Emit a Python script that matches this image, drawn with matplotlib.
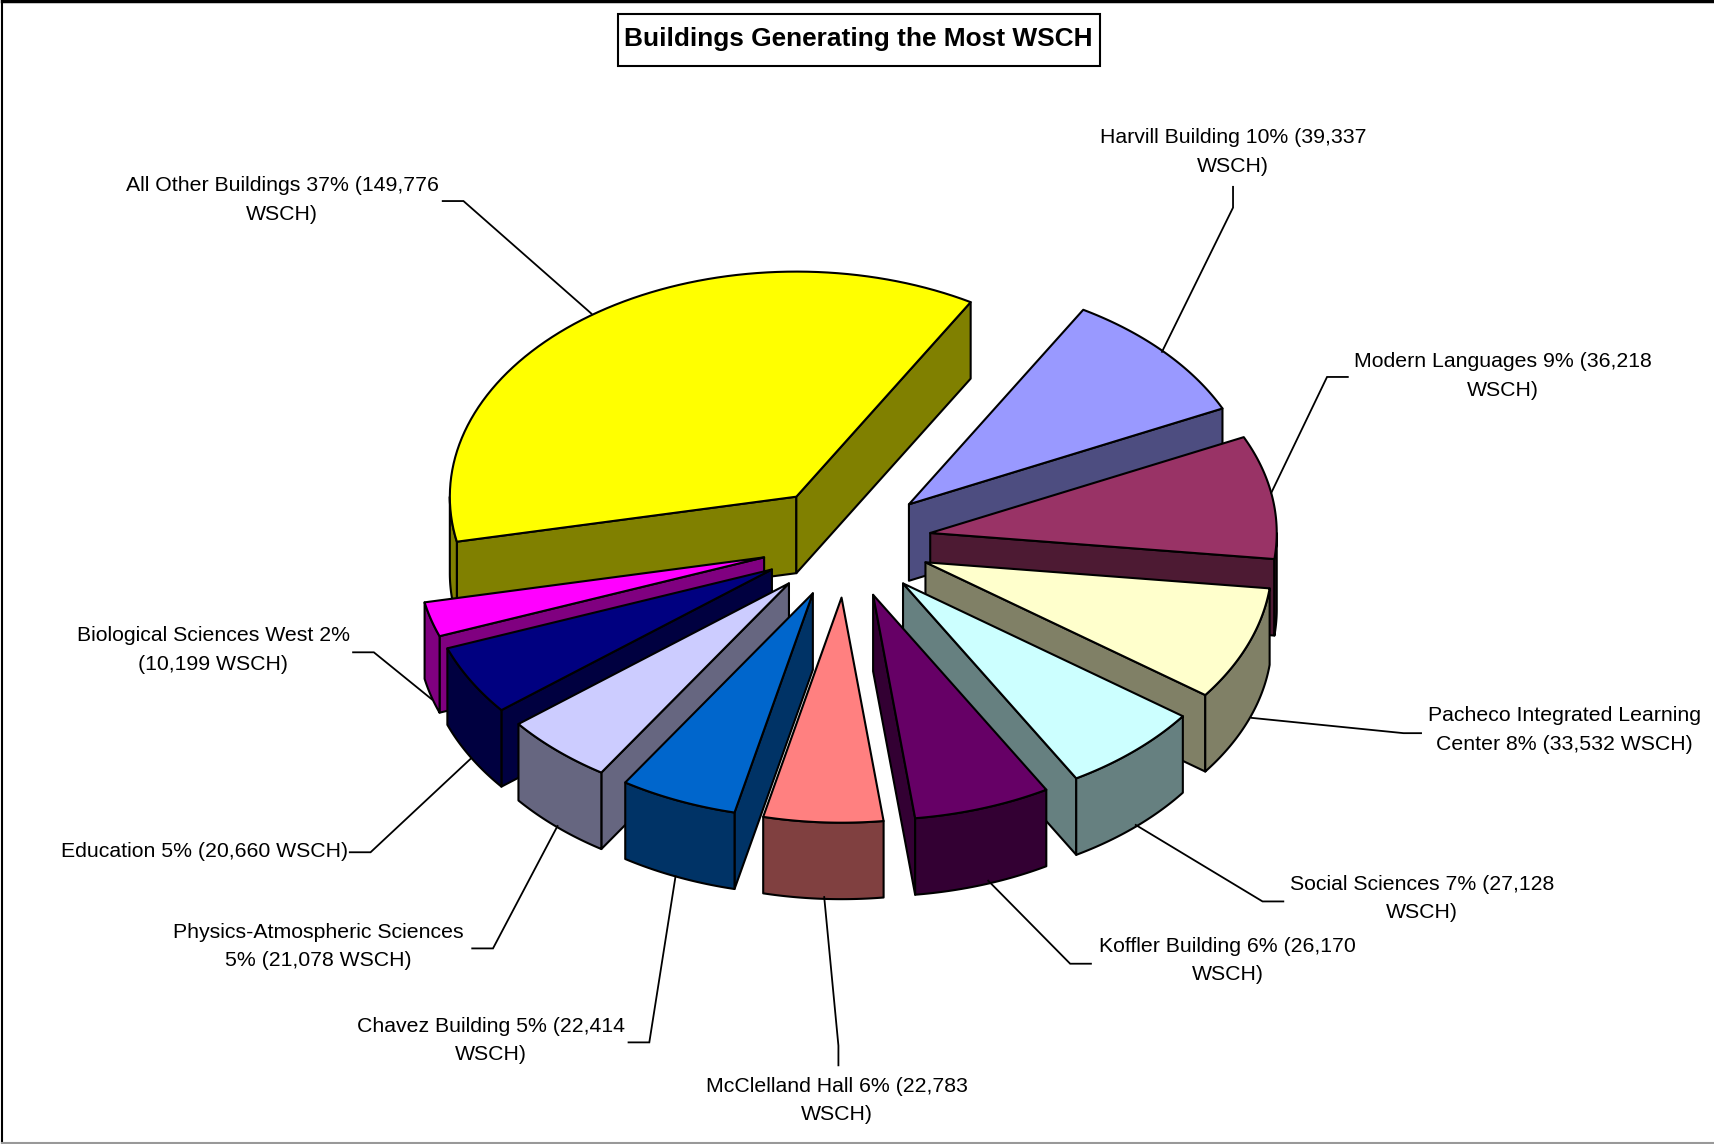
import numpy as np
import matplotlib
matplotlib.use('Agg')
import matplotlib.pyplot as plt
from matplotlib.patches import Polygon, Rectangle

plt.rcParams['font.family'] = ['Liberation Sans', 'DejaVu Sans']

# slices, clockwise from the first one
buildings = ['Harvill Building', 'Modern Languages', 'Pacheco Integrated Learning Center',
             'Social Sciences', 'Koffler Building', 'McClelland Hall', 'Chavez Building',
             'Physics-Atmospheric Sciences', 'Education', 'Biological Sciences West',
             'All Other Buildings']
wsch = [39337, 36218, 33532, 27128, 26170, 22783, 22414, 21078, 20660, 10199, 149776]
percent = [10, 9, 8, 7, 6, 6, 5, 5, 5, 2, 37]
top_colors = ['#9999FF', '#993366', '#FFFFCC', '#CCFFFF', '#660066', '#FF8080',
              '#0066CC', '#CCCCFF', '#000080', '#FF00FF', '#FFFF00']
# word after which each label wraps
wrap_after = ['(39,337', '(36,218', 'Learning', '(27,128', '(26,170', '(22,783',
              '(22,414', 'Sciences', None, '2%', '(149,776']

# pie geometry, in pixels of a 1568 wide view
CX, CY = 774, 496
RX, RY = 317, 206
EX, EY = 78, 51
DEPTH = 70
START = 30.2

# label anchor (centre of the block) and leader line for each slice
label_pos = [(1128, 139), (1375, 344), (1431, 668), (1301, 822), (1123, 879), (766, 1007),
             (449, 952), (291, 866), (187, 779), (195, 595), (258, 183)]
leaders = [
    [(1128, 171), (1128, 190), (1063, 322)],
    [(1233, 345), (1214, 345), (1163, 451)],
    [(1300, 671), (1284, 671), (1145, 657)],
    [(1174, 825), (1155, 825), (1039, 755)],
    [(998, 882), (979, 882), (904, 806)],
    [(767, 975), (767, 957), (754, 821)],
    [(575, 954), (594, 954), (618, 802)],
    [(432, 868), (451, 868), (510, 756)],
    [(320, 780), (339, 780), (431, 694)],
    [(323, 597), (342, 597), (395, 640)],
    [(405, 184), (424, 184), (541, 287)],
]


def darker(color):
    rgb = matplotlib.colors.to_rgb(color)
    return tuple(c * 0.5 for c in rgb)


def rim(t, apex):
    t = np.radians(t)
    return np.column_stack([apex[0] + RX * np.sin(t), apex[1] - RY * np.cos(t)])


def draw_slice(ax, t0, t1, color):
    mid = np.radians((t0 + t1) / 2)
    apex = (CX + EX * np.sin(mid), CY - EY * np.cos(mid))
    side = darker(color)
    style = dict(edgecolor='black', linewidth=1.5, joinstyle='round')
    down = np.array([0, DEPTH])

    # radial faces, only the ones turned to the viewer
    for t, sign in ((t0, -1), (t1, 1)):
        p = rim(np.array([t]), apex)[0]
        if sign * (p[0] - apex[0]) > 0:
            ax.add_patch(Polygon([apex, p, p + down, np.array(apex) + down],
                                 facecolor=side, **style))

    # outer wall, the part that is below the equator of the ellipse
    lo, hi = max(t0, 90), min(t1, 270)
    if lo < hi:
        arc = rim(np.linspace(lo, hi, 60), apex)
        ax.add_patch(Polygon(np.vstack([arc, arc[::-1] + down]), facecolor=side, **style))

    arc = rim(np.linspace(t0, t1, 80), apex)
    ax.add_patch(Polygon(np.vstack([[apex], arc]), facecolor=color, **style))


def main():
    fig = plt.figure(figsize=(17.14, 11.44), dpi=100)
    ax = fig.add_axes([0, 0, 1, 1])
    ax.set_xlim(0, 1568)
    ax.set_ylim(1047, 0)
    ax.axis('off')

    # chart frame
    ax.plot([2, 2], [1, 1046], color='black', lw=1.5)
    ax.plot([2, 1568], [1, 1], color='black', lw=2.5)
    ax.plot([2, 1568], [1046, 1046], color='#999999', lw=1.5)

    total = sum(wsch)
    edges = START + np.concatenate([[0], np.cumsum(wsch)]) / total * 360
    # back slices first, so the front ones paint over them
    order = sorted(range(len(wsch)), key=lambda i: -np.cos(np.radians((edges[i] + edges[i + 1]) / 2)))
    for i in order:
        draw_slice(ax, edges[i], edges[i + 1], top_colors[i])

    for i, name in enumerate(buildings):
        label = f'{name} {percent[i]}% ({wsch[i]:,} WSCH)'
        if wrap_after[i]:
            label = label.replace(wrap_after[i] + ' ', wrap_after[i] + '\n', 1)
        ax.text(label_pos[i][0], label_pos[i][1], label, ha='center', va='center',
                fontsize=15.3, linespacing=1.62, color='black')
        xs, ys = zip(*leaders[i])
        ax.plot(xs, ys, color='black', lw=1.3, solid_joinstyle='miter')

    ax.add_patch(Rectangle((565, 13), 441, 47, facecolor='white', edgecolor='black', lw=1.5))
    ax.text(785.5, 36, 'Buildings Generating the Most WSCH', ha='center', va='center',
            fontsize=18.9, fontweight='bold')

    fig.savefig('out.png', dpi=100)


if __name__ == '__main__':
    main()
